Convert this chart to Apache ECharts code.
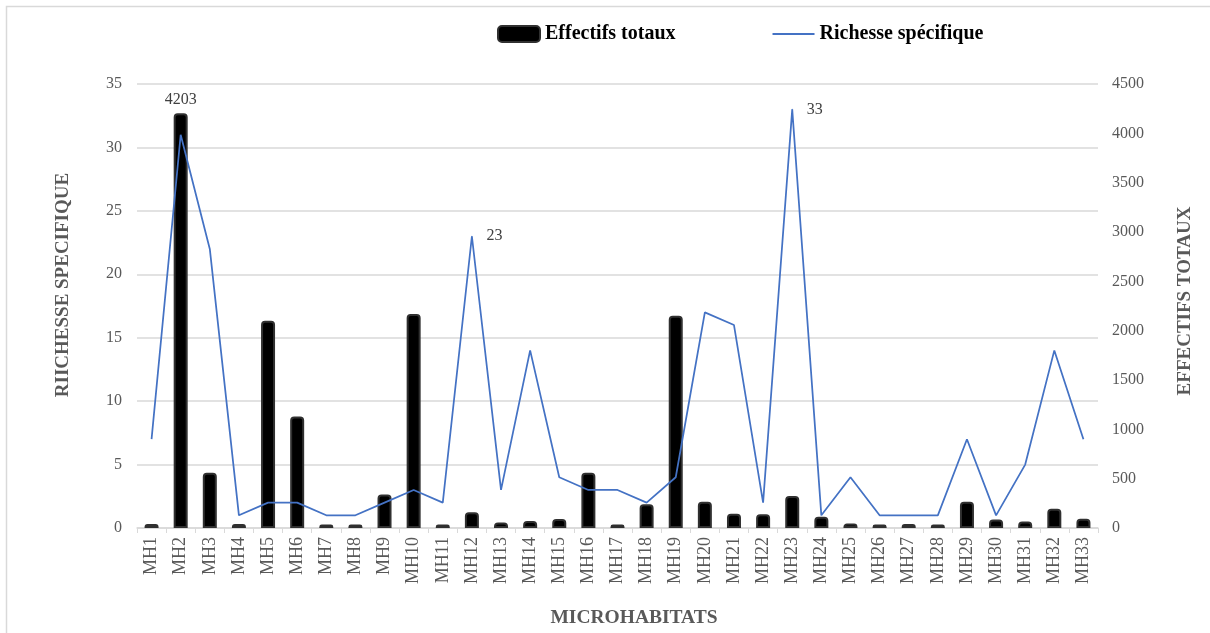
<!DOCTYPE html>
<html>
<head>
<meta charset="utf-8">
<script src="https://cdn.jsdelivr.net/npm/echarts@6/dist/echarts.min.js"></script>
<style>
html,body{margin:0;padding:0;background:#fff;}
#chart{width:1210px;height:633px;}
</style>
</head>
<body>
<div id="chart"></div>
<script>
const categories = ['MH1','MH2','MH3','MH4','MH5','MH6','MH7','MH8','MH9','MH10','MH11','MH12','MH13','MH14','MH15','MH16','MH17','MH18','MH19','MH20','MH21','MH22','MH23','MH24','MH25','MH26','MH27','MH28','MH29','MH30','MH31','MH32','MH33'];
const effectifs = [40,4203,560,40,2100,1130,35,35,340,2170,35,160,55,70,90,560,35,240,2150,265,145,140,325,115,45,35,40,35,265,85,65,195,95];
const richesse = [7,31,22,1,2,2,1,1,2,3,2,23,3,14,4,3,3,2,4,17,16,2,33,1,4,1,1,1,7,1,5,14,7];
const leftTicks = {min:0, max:35, interval:5};
const rightTicks = {min:0, max:4500, interval:500};
const barLabelIdx = [1];
const lineLabelIdx = [11, 22];

const serif = "'Liberation Serif','Times New Roman',serif";
const chart = echarts.init(document.getElementById('chart'), null, {renderer:'canvas'});

const barData = effectifs.map((v,i)=> barLabelIdx.includes(i)
  ? {value:v, label:{show:true, position:'top', distance:6, color:'#404040', fontSize:16, fontFamily:serif}}
  : v);
const lineData = richesse.map((v,i)=> lineLabelIdx.includes(i)
  ? {value:v, symbol:'circle', symbolSize:1, label:{show:true, position:'right', distance:14, color:'#404040', fontSize:16, fontFamily:serif}}
  : v);

chart.setOption({
  animation:false,
  backgroundColor:'#ffffff',
  graphic:[{type:'rect', shape:{x:6.5,y:6.5,width:1300,height:700}, style:{fill:'none', stroke:'#d9d9d9', lineWidth:1.5}, silent:true, z:-1}],
  legend:{
    left:492, top:19,
    itemWidth:42, itemHeight:16, itemGap:96,
    textStyle:{fontFamily:serif, fontWeight:'bold', fontSize:20, color:'#000'},
    data:[{name:'Effectifs totaux', icon:'roundRect'},{name:'Richesse spécifique', itemStyle:{opacity:0}}]
  },
  grid:{left:137, right:112, top:84, bottom:105, containLabel:false},
  xAxis:{
    type:'category', data:categories, boundaryGap:true,
    axisLine:{lineStyle:{color:'#d9d9d9', width:1.5}},
    axisTick:{show:true, alignWithLabel:false, length:5, lineStyle:{color:'#d9d9d9'}},
    axisLabel:{rotate:90, interval:0, margin:9, color:'#595959', fontSize:18, fontFamily:serif},
    name:'MICROHABITATS', nameLocation:'middle', nameGap:80, nameMoveOverlap:false,
    nameTextStyle:{fontFamily:serif, fontWeight:'bold', fontSize:19.5, color:'#595959', padding:[0,0,0,33]}
  },
  yAxis:[
    {type:'value', position:'left', min:leftTicks.min, max:leftTicks.max, interval:leftTicks.interval,
     axisLine:{show:false}, axisTick:{show:false},
     splitLine:{lineStyle:{color:'#d9d9d9', width:1.5}},
     axisLabel:{margin:15, color:'#595959', fontSize:16, fontFamily:serif},
     name:'RIICHESSE SPECIFIQUE', nameLocation:'middle', nameGap:64, nameMoveOverlap:false,
     nameTextStyle:{fontFamily:serif, fontWeight:'bold', fontSize:19, color:'#595959', padding:[0,0,0,42]}
    },
    {type:'value', position:'right', min:rightTicks.min, max:rightTicks.max, interval:rightTicks.interval,
     axisLine:{show:false}, axisTick:{show:false}, splitLine:{show:false},
     axisLabel:{margin:14, color:'#595959', fontSize:16, fontFamily:serif, formatter:(v)=>String(v)},
     name:'EFFECTIFS TOTAUX', nameLocation:'middle', nameGap:78, nameMoveOverlap:false,
     nameTextStyle:{fontFamily:serif, fontWeight:'bold', fontSize:19, color:'#595959', padding:[0,0,0,10]}
    }
  ],
  series:[
    {name:'Effectifs totaux', type:'bar', yAxisIndex:1, data:barData, barWidth:14,
     itemStyle:{color:'#000000', borderColor:'#303030', borderWidth:2, borderRadius:[3,3,0,0]}},
    {name:'Richesse spécifique', type:'line', yAxisIndex:0, data:lineData,
     symbol:'none', showSymbol:true,
     lineStyle:{color:'#4472C4', width:1.75}, itemStyle:{color:'#4472C4'}}
  ]
});
</script>
</body>
</html>
